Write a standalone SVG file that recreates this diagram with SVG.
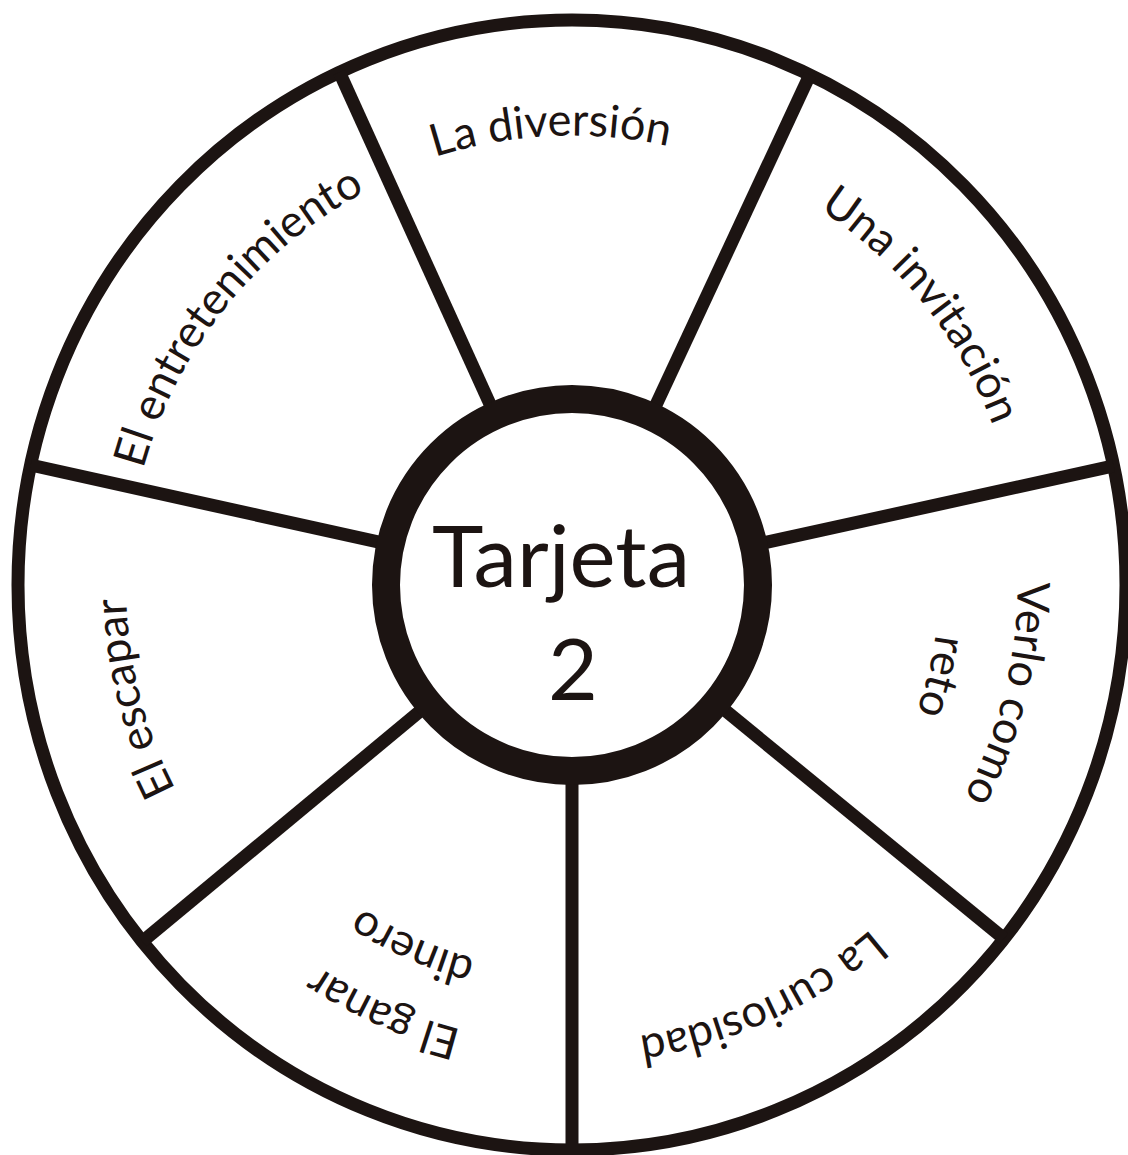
<svg xmlns="http://www.w3.org/2000/svg" width="1128" height="1155" viewBox="0 0 1128 1155">
<style>
.ln{stroke:#1c1412;stroke-width:13;fill:none;stroke-linecap:butt}
.lbl{font-family:Lato,"Open Sans",sans-serif;font-size:45px;fill:#1c1412}
.ctr{font-family:Lato,"Open Sans",sans-serif;font-size:86px;fill:#1c1412;text-anchor:middle}
</style>
<defs>
<path id="p1" d="M122.5,606.2 A450,450 0 0 1 1021.5,563.8"/>
<path id="p2" d="M290.6,233.8 A450,450 0 0 1 853.4,936.2"/>
<path id="p3a" d="M680.9,148.4 A450,450 0 0 1 463.1,1021.6"/>
<path id="p3b" d="M661.5,226 A370,370 0 0 1 482.5,944"/>
<path id="p4" d="M989.9,392.8 A460,460 0 0 1 154.1,777.2"/>
<path id="p5a" d="M991.1,769.8 A458,458 0 0 1 152.9,400.2"/>
<path id="p5b" d="M928.8,742.4 A390,390 0 0 1 215.2,427.6"/>
<path id="p6" d="M683.7,1016.8 A446,446 0 0 1 460.3,153.2"/>
<path id="p7" d="M291.3,935.4 A449,449 0 0 1 852.7,234.6"/>
</defs>
<rect width="1128" height="1155" fill="#ffffff"/>
<g id="outer-circle">
<ellipse class="ln" cx="572" cy="585" rx="554" ry="565"/>
</g>
<g id="connectors">
<line class="ln" x1="572" y1="771" x2="572" y2="1152"/>
<line class="ln" x1="428.9" y1="703.8" x2="142.4" y2="941.6"/>
<line class="ln" x1="390.4" y1="544.7" x2="30.6" y2="465"/>
<line class="ln" x1="495.2" y1="415.6" x2="339.4" y2="72.3"/>
<line class="ln" x1="650.6" y1="416.4" x2="809.9" y2="74.8"/>
<line class="ln" x1="753.7" y1="545.1" x2="1113.6" y2="465.9"/>
<line class="ln" x1="715.9" y1="702.8" x2="1004" y2="938.6"/>
</g>
<g id="center">
<circle cx="572" cy="585" r="186" fill="#ffffff" stroke="#1c1412" stroke-width="28"/>
<text class="ctr" x="561" y="587" textLength="258" lengthAdjust="spacingAndGlyphs">Tarjeta</text>
<text class="ctr" x="573" y="700">2</text>
</g>
<g id="seg-diversion"><text class="lbl"><textPath href="#p1" startOffset="50%" text-anchor="middle">La diversión</textPath></text></g>
<g id="seg-invitacion"><text class="lbl"><textPath href="#p2" startOffset="50%" text-anchor="middle">Una invitación</textPath></text></g>
<g id="seg-reto"><text class="lbl"><textPath href="#p3a" startOffset="50%" text-anchor="middle">Verlo como</textPath></text><text class="lbl"><textPath href="#p3b" startOffset="50%" text-anchor="middle">reto</textPath></text></g>
<g id="seg-curiosidad"><text class="lbl"><textPath href="#p4" startOffset="50%" text-anchor="middle">La curiosidad</textPath></text></g>
<g id="seg-ganar"><text class="lbl"><textPath href="#p5a" startOffset="50%" text-anchor="middle">El ganar</textPath></text><text class="lbl"><textPath href="#p5b" startOffset="50%" text-anchor="middle">dinero</textPath></text></g>
<g id="seg-escapar"><text class="lbl"><textPath href="#p6" startOffset="50%" text-anchor="middle">El escapar</textPath></text></g>
<g id="seg-entretenimiento"><text class="lbl"><textPath href="#p7" startOffset="50%" text-anchor="middle">El entretenimiento</textPath></text></g>
</svg>
